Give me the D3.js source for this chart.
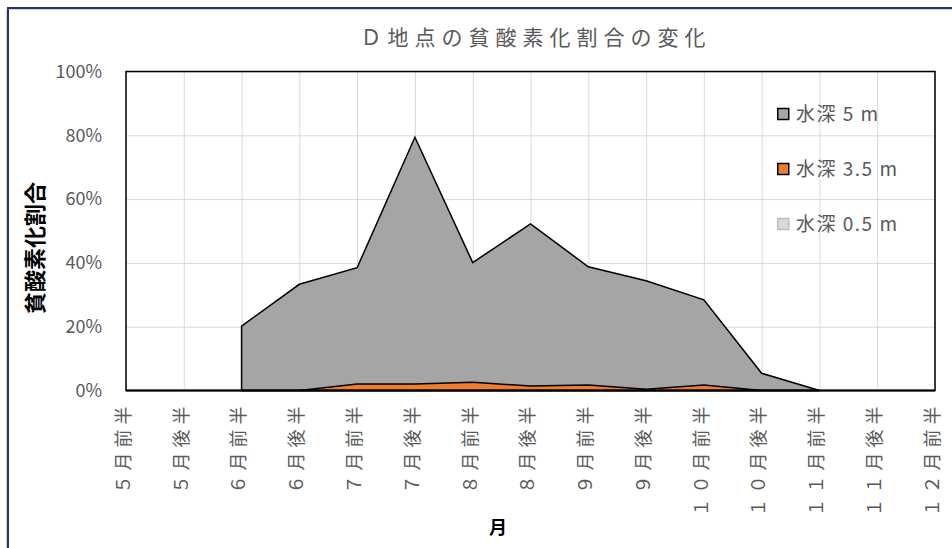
<!DOCTYPE html>
<html>
<head>
<meta charset="utf-8">
<script src="https://cdn.jsdelivr.net/npm/d3@7"></script>
<style>
  html, body { margin: 0; padding: 0; background: #fff; }
  svg { display: block; }
</style>
</head>
<body>
<svg id="chart" width="952" height="548"></svg>
<script>
// Half-month periods on the x axis
const categories = ["５月前半","５月後半","６月前半","６月後半","７月前半","７月後半","８月前半","８月後半","９月前半","９月後半","１０月前半","１０月後半","１１月前半","１１月後半","１２月前半"];

// Share of hypoxic observations per depth (null = no survey)
const depth5m  = [null, null, 0.202, 0.333, 0.385, 0.794, 0.401, 0.522, 0.388, 0.344, 0.284, 0.054, 0, null, null];
const depth35m = [null, null, 0, 0, 0.020, 0.020, 0.026, 0.014, 0.017, 0.004, 0.017, 0, 0, null, null];
const depth05m = [null, null, 0, 0, 0, 0, 0, 0, 0, 0, 0, 0, 0, null, null];

const seriesNames = ["水深 5 m", "水深 3.5 m", "水深 0.5 m"];
const yTicks = [0, 0.2, 0.4, 0.6, 0.8, 1.0];

const titleText = "Ｄ地点の貧酸素化割合の変化";
const yTitle = "貧酸素化割合";
const xTitle = "月";

const JP = "'Noto Sans CJK JP', 'Noto Sans', sans-serif";
const svg = d3.select("#chart");

const plot = { left: 126, right: 935, top: 71.5, bottom: 390.5 };

// Outer chart frame
svg.append("rect")
  .attr("x", 6.5).attr("y", 9.5).attr("width", 1000).attr("height", 600)
  .attr("fill", "none").attr("stroke", "#d0d3da").attr("stroke-width", 1);
svg.append("rect")
  .attr("x", 8).attr("y", 8).attr("width", 1000).attr("height", 600)
  .attr("fill", "none").attr("stroke", "#1f3864").attr("stroke-width", 2);

const x = d3.scalePoint().domain(categories).range([plot.left, plot.right]);
const y = d3.scaleLinear().domain([0, 1]).range([plot.bottom, plot.top]);

// Gridlines
svg.append("g")
  .attr("transform", `translate(${plot.left},0)`)
  .call(d3.axisLeft(y).tickValues(yTicks).tickSize(-(plot.right - plot.left)).tickFormat(""))
  .call(g => g.select(".domain").remove())
  .call(g => g.selectAll("line").attr("stroke", "#d9d9d9").attr("stroke-width", 1));
svg.append("g")
  .attr("transform", `translate(0,${plot.bottom})`)
  .call(d3.axisBottom(x).tickSize(-(plot.bottom - plot.top)).tickFormat(""))
  .call(g => g.select(".domain").remove())
  .call(g => g.selectAll("line").attr("stroke", "#d9d9d9").attr("stroke-width", 1));

// Areas
const area = d3.area()
  .defined(d => d.v !== null)
  .x(d => x(d.c))
  .y0(y(0))
  .y1(d => y(d.v));

const series = [
  { name: seriesNames[0], values: depth5m,  fill: "#a5a5a5", stroke: "#000" },
  { name: seriesNames[1], values: depth35m, fill: "#ed7d31", stroke: "#000" },
  { name: seriesNames[2], values: depth05m, fill: "#d9d9d9", stroke: "none" }
];

series.forEach(s => {
  const pts = categories.map((c, i) => ({ c, v: s.values[i] }));
  svg.append("path")
    .datum(pts)
    .attr("d", area)
    .attr("fill", s.fill)
    .attr("stroke", s.stroke)
    .attr("stroke-width", 1.5)
    .attr("stroke-linejoin", "miter");
});

// Plot border
svg.append("rect")
  .attr("x", plot.left).attr("y", plot.top)
  .attr("width", plot.right - plot.left).attr("height", plot.bottom - plot.top)
  .attr("fill", "none").attr("stroke", "#000").attr("stroke-width", 1.5);
svg.append("line")
  .attr("x1", plot.left).attr("x2", plot.right)
  .attr("y1", plot.bottom).attr("y2", plot.bottom)
  .attr("stroke", "#000").attr("stroke-width", 2);

// Y axis labels
svg.append("g")
  .attr("transform", `translate(${plot.left},0)`)
  .call(d3.axisLeft(y).tickValues(yTicks).tickSize(0).tickPadding(24).tickFormat(d3.format(".0%")))
  .call(g => g.select(".domain").remove())
  .call(g => g.selectAll("text")
    .attr("fill", "#595959")
    .style("font-family", JP)
    .style("font-size", "18px"));

// X axis labels (rotated, reading bottom to top)
svg.append("g")
  .attr("transform", `translate(0,${plot.bottom})`)
  .call(d3.axisBottom(x).tickSize(0).tickPadding(0))
  .call(g => g.select(".domain").remove())
  .call(g => g.selectAll("text")
    .attr("fill", "#595959")
    .attr("text-anchor", "end")
    .attr("transform", "translate(-3,11) rotate(-90)")
    .attr("x", 0).attr("y", 0).attr("dy", "0.35em")
    .style("font-family", JP)
    .style("font-size", "18px")
    .style("letter-spacing", "5px"));

// Title
svg.append("text")
  .attr("x", 536).attr("y", 45)
  .attr("text-anchor", "middle")
  .attr("fill", "#595959")
  .style("font-family", JP)
  .style("font-size", "21px")
  .style("letter-spacing", "6px")
  .text(titleText);

// Axis titles
svg.append("text")
  .attr("transform", "translate(43,248) rotate(-90)")
  .attr("text-anchor", "middle")
  .attr("fill", "#000")
  .style("font-family", JP)
  .style("font-weight", "bold")
  .style("font-size", "22px")
  .text(yTitle);
svg.append("text")
  .attr("x", 498).attr("y", 534)
  .attr("text-anchor", "middle")
  .attr("fill", "#000")
  .style("font-family", JP)
  .style("font-weight", "bold")
  .style("font-size", "18px")
  .text(xTitle);

// Legend
const legendStyles = [
  { fill: "#a5a5a5", stroke: "#000" },
  { fill: "#ed7d31", stroke: "#000" },
  { fill: "#d9d9d9", stroke: "#bfbfbf" }
];
const legend = svg.append("g").attr("transform", "translate(777,114)");
seriesNames.forEach((name, i) => {
  const g = legend.append("g").attr("transform", `translate(0,${i * 55})`);
  g.append("rect")
    .attr("x", 0.75).attr("y", -5.5).attr("width", 11).attr("height", 11)
    .attr("fill", legendStyles[i].fill)
    .attr("stroke", legendStyles[i].stroke)
    .attr("stroke-width", 1.5);
  g.append("text")
    .attr("x", 19).attr("y", 0).attr("dy", "0.35em")
    .attr("fill", "#595959")
    .style("font-family", JP)
    .style("font-size", "19px")
    .style("letter-spacing", "1.5px")
    .text(name);
});
</script>
</body>
</html>
